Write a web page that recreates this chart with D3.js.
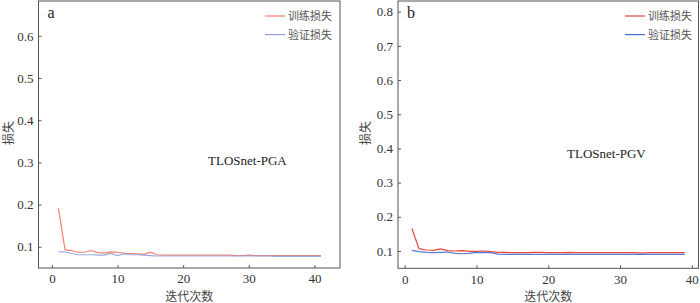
<!DOCTYPE html>
<html>
<head>
<meta charset="utf-8">
<script src="https://cdn.jsdelivr.net/npm/d3@7"></script>
<style>
  body { margin: 0; background: #fff; }
  svg { display: block; }
  .tick text { font-family: "Liberation Serif", "Times New Roman", serif; font-size: 13px; fill: #333; }
  .tick line { stroke: #555; }
</style>
</head>
<body>
<script>
// epochs and losses
var epochsA = [1,2,3,4,5,6,7,8,9,10,11,12,13,14,15,16,17,18,19,20,21,22,23,24,25,26,27,28,29,30,31,32,33,34,35,36,37,38,39,40,41];
var trainA = [0.191,0.093,0.091,0.087,0.087,0.091,0.086,0.085,0.088,0.087,0.085,0.084,0.083,0.082,0.087,0.081,0.080,0.080,0.080,0.080,
              0.080,0.080,0.080,0.080,0.080,0.080,0.080,0.079,0.079,0.080,0.079,0.079,0.079,0.079,0.079,0.079,0.079,0.079,0.079,0.079,0.079];
var valA   = [0.088,0.088,0.084,0.081,0.081,0.081,0.080,0.080,0.084,0.079,0.083,0.081,0.081,0.080,0.079,0.078,0.078,0.078,0.078,0.078,
              0.078,0.078,0.078,0.078,0.078,0.078,0.078,0.078,0.078,0.078,0.078,0.078,0.078,0.077,0.077,0.077,0.077,0.077,0.077,0.077,0.077];

var epochsB = [1,2,3,4,5,6,7,8,9,10,11,12,13,14,15,16,17,18,19,20,21,22,23,24,25,26,27,28,29,30,31,32,33,34,35,36,37,38,39];
var trainB = [0.166,0.107,0.103,0.102,0.106,0.101,0.100,0.101,0.099,0.099,0.100,0.098,0.096,0.096,0.095,0.095,0.095,0.096,0.096,0.095,
              0.095,0.095,0.096,0.095,0.095,0.095,0.095,0.095,0.095,0.095,0.095,0.095,0.094,0.095,0.095,0.095,0.095,0.095,0.095];
var valB   = [0.102,0.098,0.096,0.095,0.096,0.097,0.093,0.092,0.093,0.096,0.095,0.095,0.091,0.090,0.090,0.090,0.090,0.090,0.090,0.090,
              0.090,0.090,0.090,0.090,0.090,0.090,0.090,0.090,0.090,0.090,0.090,0.090,0.090,0.090,0.090,0.090,0.090,0.090,0.090];

var xTicksA = [0,10,20,30,40];
var xTicksB = [0,10,20,30,40];
var yTicksA = [0.1,0.2,0.3,0.4,0.5,0.6];
var yTicksB = [0.1,0.2,0.3,0.4,0.5,0.6,0.7,0.8];
var legendNames = ["训练损失", "验证损失"];

var svg = d3.select("body").append("svg")
    .attr("width", 700)
    .attr("height", 303);

function drawPanel(p) {
  var x = d3.scaleLinear().domain(p.xDomain).range([p.left, p.right]);
  var y = d3.scaleLinear().domain(p.yDomain).range([p.bottom, p.top]);
  var g = svg.append("g");

  // axes (ticks point inward)
  g.append("g")
    .attr("transform", "translate(0," + p.bottom + ")")
    .call(d3.axisBottom(x).tickValues(p.xTicks).tickSizeInner(-3).tickSizeOuter(0).tickPadding(6))
    .call(function(a) { a.select(".domain").remove(); });
  g.append("g")
    .attr("transform", "translate(" + p.left + ",0)")
    .call(d3.axisLeft(y).tickValues(p.yTicks).tickFormat(d3.format(".1f")).tickSizeInner(-3).tickSizeOuter(0).tickPadding(5))
    .call(function(a) { a.select(".domain").remove(); });

  // lines
  var line = d3.line()
    .x(function(d) { return x(d[0]); })
    .y(function(d) { return y(d[1]); });
  g.append("path")
    .datum(d3.zip(p.epochs, p.train))
    .attr("fill", "none")
    .attr("stroke", p.trainColor)
    .attr("stroke-width", 1.2)
    .attr("d", line);
  g.append("path")
    .datum(d3.zip(p.epochs, p.val))
    .attr("fill", "none")
    .attr("stroke", p.valColor)
    .attr("stroke-width", 1.2)
    .attr("stroke-opacity", 0.9)
    .attr("d", line);

  // frame
  g.append("rect")
    .attr("x", p.left).attr("y", p.top)
    .attr("width", p.right - p.left).attr("height", p.bottom - p.top)
    .attr("fill", "none").attr("stroke", "#555").attr("stroke-width", 1);

  // panel letter + model name
  g.append("text")
    .attr("x", p.left + 9).attr("y", p.top + 17)
    .style("font-family", "'Liberation Serif', serif").style("font-size", "16px").style("fill", "#222")
    .text(p.letter);
  g.append("text")
    .attr("x", p.nameX).attr("y", p.nameY)
    .style("font-family", "'Liberation Serif', serif").style("font-size", "13px").style("fill", "#222")
    .text(p.name);

  // axis titles
  g.append("text")
    .attr("x", (p.left + p.right) / 2).attr("y", 301)
    .attr("text-anchor", "middle")
    .style("font-family", "Noto Sans CJK SC").style("font-size", "12px").style("fill", "#444")
    .text("迭代次数");
  g.append("text")
    .attr("transform", "translate(" + p.yTitleX + ",133)rotate(-90)")
    .attr("text-anchor", "middle")
    .style("font-family", "Noto Sans CJK SC").style("font-size", "12px").style("fill", "#444")
    .text("损失");

  // legend
  var colors = [p.trainColor, p.valColor];
  legendNames.forEach(function(name, i) {
    var ly = 16 + i * 18.6;
    g.append("line")
      .attr("x1", p.legendX).attr("x2", p.legendX + 20)
      .attr("y1", ly).attr("y2", ly)
      .attr("stroke", colors[i]).attr("stroke-width", 1.2);
    g.append("text")
      .attr("x", p.legendX + 23).attr("y", ly + 4)
      .style("font-family", "Noto Sans CJK SC").style("font-size", "11px").style("fill", "#555")
      .text(name);
  });
}

drawPanel({
  left: 38.5, right: 340, top: 1, bottom: 268,
  xDomain: [-2.04, 43.9], yDomain: [0.0496, 0.6827],
  xTicks: xTicksA, yTicks: yTicksA,
  epochs: epochsA, train: trainA, val: valA,
  trainColor: "#f2826c", valColor: "#8ea4de",
  letter: "a", name: "TLOSnet-PGA", nameX: 208, nameY: 165,
  yTitleX: 13, legendX: 265
});

drawPanel({
  left: 398, right: 698.5, top: 1, bottom: 268.3,
  xDomain: [-0.93, 40.93], yDomain: [0.0494, 0.8313],
  xTicks: xTicksB, yTicks: yTicksB,
  epochs: epochsB, train: trainB, val: valB,
  trainColor: "#e8463f", valColor: "#3f70cf",
  letter: "b", name: "TLOSnet-PGV", nameX: 567, nameY: 158,
  yTitleX: 370, legendX: 625
});
</script>
</body>
</html>
